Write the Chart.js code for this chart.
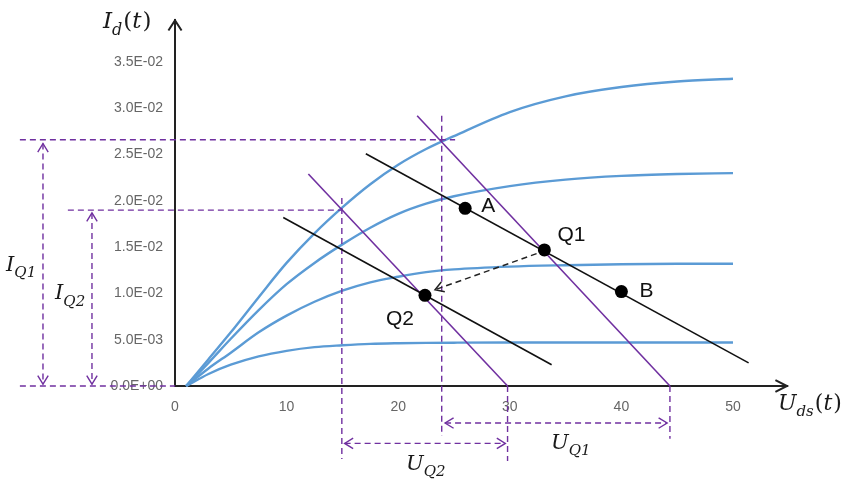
<!DOCTYPE html>
<html>
<head>
<meta charset="utf-8">
<script src="https://cdn.jsdelivr.net/npm/chart.js@4.4.0/dist/chart.umd.min.js"></script>
<style>
  html, body { margin: 0; padding: 0; background: #fff; }
  #wrap { width: 852px; height: 479px; position: relative; }
</style>
</head>
<body>
<div id="wrap"><canvas id="chart"></canvas></div>
<script>
// drain-source voltage samples (V)
const uds = [1, 3, 5, 7.5, 10, 12.5, 15, 17.5, 20, 22.5, 25, 30, 35, 40, 45, 50];
// drain current, one curve per gate voltage (A)
const id1 = [0, 0.0029, 0.0058, 0.0096, 0.0133, 0.0165, 0.0193, 0.0218, 0.0239, 0.0256, 0.0270, 0.0296, 0.0313, 0.0323, 0.0329, 0.0332];
const id2 = [0, 0.0025, 0.0051, 0.0082, 0.0110, 0.0133, 0.0153, 0.0171, 0.0186, 0.0197, 0.0205, 0.0216, 0.0223, 0.0227, 0.0229, 0.0230];
const id3 = [0, 0.0019, 0.0036, 0.0058, 0.0076, 0.0091, 0.0103, 0.0112, 0.0118, 0.0123, 0.0126, 0.0129, 0.01305, 0.01315, 0.0132, 0.0132];
const id4 = [0, 0.0013, 0.0023, 0.0032, 0.0038, 0.0042, 0.0044, 0.00455, 0.00462, 0.00466, 0.00468, 0.0047, 0.0047, 0.0047, 0.0047, 0.0047];

// load lines (black) and their steeper counterparts (purple): [u1, i1, u2, i2]
const loadLines = [[17.1, 0.0251, 51.4, 0.0025], [9.7, 0.0182, 33.75, 0.0023]];
const purpleLines = [[21.7, 0.0292, 44.35, 0], [11.95, 0.0229, 29.8, 0]];

// operating points
const pointNames = ["A", "Q1", "B", "Q2"];
const pointU = [26.0, 33.1, 40.0, 22.4];
const pointI = [0.0192, 0.0147, 0.0102, 0.0098];

// dashed guides and dimension arrows: [u1, i1, u2, i2]
const guideLines = [
  [-13.9, 0.0266, 25.1, 0.0266],
  [-9.6, 0.0190, 14.9, 0.0190],
  [-13.9, 0, 0, 0],
  [23.9, 0.0292, 23.9, -0.0054],
  [14.95, 0.0203, 14.95, -0.0079],
  [29.8, 0, 29.8, -0.0081],
  [44.35, 0, 44.35, -0.0057]
];
const dimArrows = [
  [-11.83, 0.0262, -11.83, 0.0002],
  [-7.44, 0.0187, -7.44, 0.0002],
  [24.2, -0.0040, 44.1, -0.0040],
  [15.2, -0.0062, 29.6, -0.0062]
];
const shiftArrow = [32.4, 0.0143, 23.3, 0.0104];

// axis ticks
const xTicks = [0, 10, 20, 30, 40, 50];
const yTicks = [0, 0.005, 0.01, 0.015, 0.02, 0.025, 0.03, 0.035];
const yTickLabels = ["0.0E+00", "5.0E-03", "1.0E-02", "1.5E-02", "2.0E-02", "2.5E-02", "3.0E-02", "3.5E-02"];

const blue = "#5b9bd5";
const purple = "#7030a0";

const seg = s => [{ x: s[0], y: s[1] }, { x: s[2], y: s[3] }];
const curve = ys => uds.map((u, i) => ({ x: u, y: ys[i] }));

const datasets = [];
datasets.push({
  data: pointU.map((u, i) => ({ x: u, y: pointI[i] })),
  showLine: false, pointRadius: 6.5, pointBackgroundColor: "#000", pointBorderWidth: 0
});
datasets.push({ data: seg(shiftArrow), borderColor: "#222", borderWidth: 1.5, borderDash: [6, 4] });
loadLines.forEach(s => datasets.push({ data: seg(s), borderColor: "#111", borderWidth: 1.6 }));
purpleLines.forEach(s => datasets.push({ data: seg(s), borderColor: purple, borderWidth: 1.6 }));
guideLines.concat(dimArrows).forEach(s => datasets.push({ data: seg(s), borderColor: purple, borderWidth: 1.4, borderDash: [6, 4] }));
[id1, id2, id3, id4].forEach(ys => datasets.push({ data: curve(ys), borderColor: blue, borderWidth: 2.4, cubicInterpolationMode: "monotone" }));
datasets.forEach(d => { d.clip = false; if (d.pointRadius === undefined) d.pointRadius = 0; });

function chevron(ctx, tx, ty, ang, len, spread, color, w) {
  ctx.beginPath();
  ctx.moveTo(tx - len * Math.cos(ang - spread), ty - len * Math.sin(ang - spread));
  ctx.lineTo(tx, ty);
  ctx.lineTo(tx - len * Math.cos(ang + spread), ty - len * Math.sin(ang + spread));
  ctx.setLineDash([]);
  ctx.strokeStyle = color;
  ctx.lineWidth = w;
  ctx.stroke();
}

function mathLabel(ctx, main, sub, tail, x, y, size) {
  const fam = '"DejaVu Serif"';
  ctx.fillStyle = "#1a1a1a";
  ctx.textBaseline = "alphabetic";
  ctx.textAlign = "left";
  ctx.font = "italic " + size + "px " + fam;
  ctx.fillText(main, x, y);
  x += ctx.measureText(main).width;
  ctx.font = "italic " + Math.round(size * 0.7) + "px " + fam;
  ctx.fillText(sub, x, y + size * 0.3);
  x += ctx.measureText(sub).width + 1;
  if (tail) {
    ctx.font = size + "px " + fam;
    ctx.fillText("(", x, y); x += ctx.measureText("(").width;
    ctx.font = "italic " + size + "px " + fam;
    ctx.fillText("t", x, y); x += ctx.measureText("t").width + 1;
    ctx.font = size + "px " + fam;
    ctx.fillText(")", x, y);
  }
}

const overlay = {
  id: "overlay",
  afterDatasetsDraw(chart) {
    const { ctx, chartArea: a, scales: { x, y } } = chart;
    const P = (u, i) => [x.getPixelForValue(u), y.getPixelForValue(i)];
    ctx.save();
    chevron(ctx, a.left, a.top, -Math.PI / 2, 12, 0.58, "#222", 2);
    chevron(ctx, a.right, a.bottom, 0, 13, 0.47, "#222", 2);

    dimArrows.forEach(s => {
      const p1 = P(s[0], s[1]), p2 = P(s[2], s[3]);
      const ang = Math.atan2(p2[1] - p1[1], p2[0] - p1[0]);
      chevron(ctx, p2[0], p2[1], ang, 10, 0.55, purple, 1.4);
      chevron(ctx, p1[0], p1[1], ang + Math.PI, 10, 0.55, purple, 1.4);
    });
    {
      const p1 = P(shiftArrow[0], shiftArrow[1]), p2 = P(shiftArrow[2], shiftArrow[3]);
      chevron(ctx, p2[0], p2[1], Math.atan2(p2[1] - p1[1], p2[0] - p1[0]), 10, 0.55, "#222", 1.5);
    }

    const offs = { A: [16, -2], Q1: [13, -15], B: [18, 0], Q2: [-39, 24] };
    ctx.font = '21px "Liberation Sans", Arial, sans-serif';
    ctx.fillStyle = "#111";
    ctx.textBaseline = "middle";
    ctx.textAlign = "left";
    pointNames.forEach((n, k) => {
      const p = P(pointU[k], pointI[k]);
      ctx.fillText(n, p[0] + offs[n][0], p[1] + offs[n][1]);
    });

    let p = P(-6.45, 0.03872); mathLabel(ctx, "I", "d", true, p[0], p[1], 23);
    p = P(54.03, -0.00255); mathLabel(ctx, "U", "ds", true, p[0], p[1], 22);
    p = P(-15.14, 0.01245); mathLabel(ctx, "I", "Q1", false, p[0], p[1], 21);
    p = P(-10.75, 0.00936); mathLabel(ctx, "I", "Q2", false, p[0], p[1], 21);
    p = P(33.69, -0.00681); mathLabel(ctx, "U", "Q1", false, p[0], p[1], 21);
    p = P(20.70, -0.00904); mathLabel(ctx, "U", "Q2", false, p[0], p[1], 21);
    ctx.restore();
  }
};

new Chart(document.getElementById("chart").getContext("2d"), {
  type: "line",
  data: { datasets: datasets },
  options: {
    responsive: true,
    maintainAspectRatio: false,
    animation: false,
    layout: { padding: { left: 0, top: 15, right: 65, bottom: 0 } },
    plugins: { legend: { display: false }, tooltip: { enabled: false } },
    scales: {
      x: {
        type: "linear",
        bounds: "data",
        afterDataLimits: s => { s.min = 0; s.max = 54.84; },
        afterBuildTicks: s => { s.ticks = xTicks.map(v => ({ value: v })); },
        afterFit: s => { s.height = 93; },
        grid: { display: false, drawTicks: false },
        border: { display: true, color: "#222", width: 2 },
        ticks: {
          autoSkip: false, maxRotation: 0, padding: 13, color: "#666",
          font: { family: "Liberation Sans", size: 14 },
          callback: (v, i) => String(xTicks[i])
        }
      },
      y: {
        type: "linear",
        bounds: "data",
        afterDataLimits: s => { s.min = 0; s.max = 0.0395; },
        afterBuildTicks: s => { s.ticks = yTicks.map(v => ({ value: v })); },
        afterFit: s => { s.width = 175; },
        grid: { display: false, drawTicks: false },
        border: { display: true, color: "#222", width: 2 },
        ticks: {
          autoSkip: false, padding: 12, color: "#666",
          font: { family: "Liberation Sans", size: 14 },
          callback: (v, i) => yTickLabels[i]
        }
      }
    }
  },
  plugins: [overlay]
});
</script>
</body>
</html>
